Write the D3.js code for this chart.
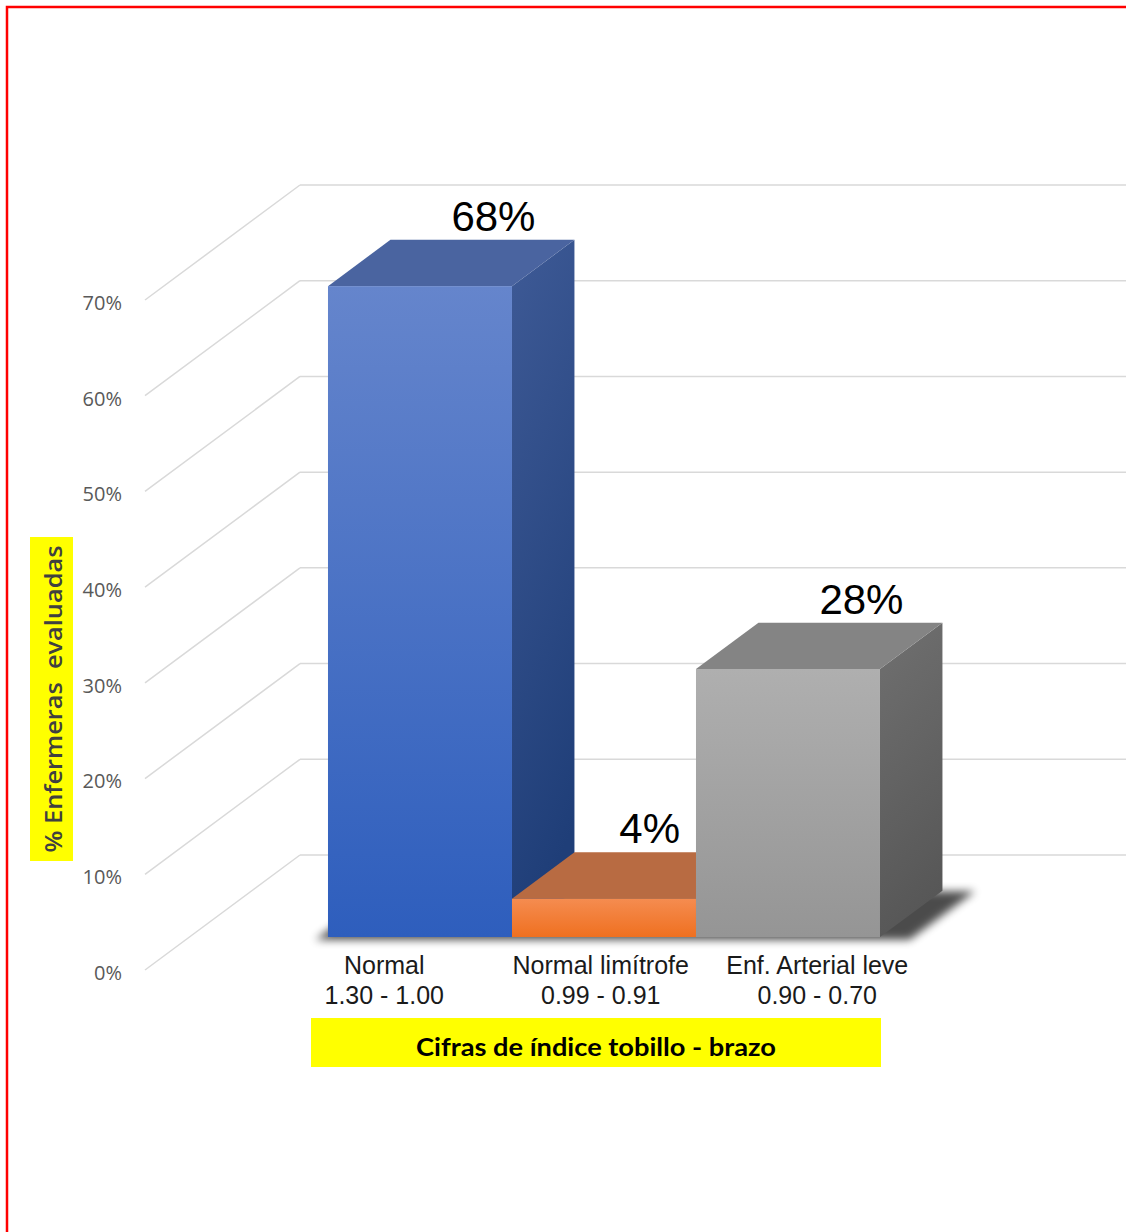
<!DOCTYPE html>
<html>
<head>
<meta charset="utf-8">
<script src="https://cdn.jsdelivr.net/npm/d3@7"></script>
<style>
  html, body { margin: 0; padding: 0; background: #fff; overflow: hidden; }
  svg { display: block; }
</style>
</head>
<body>
<script>
// Índice tobillo-brazo: distribución de enfermeras evaluadas
const categories = ["Normal", "Normal limítrofe", "Enf. Arterial leve"];
const ranges = ["1.30 - 1.00", "0.99 - 0.91", "0.90 - 0.70"];
const values = [0.68, 0.04, 0.28];
const valueLabels = ["68%", "4%", "28%"];
const yTicks = [0, 0.1, 0.2, 0.3, 0.4, 0.5, 0.6, 0.7];
const yTitle = "% Enfermeras  evaluadas";
const xTitle = "Cifras de índice tobillo - brazo";

// face colours per series: [front top, front bottom, top, side top, side bottom]
const palette = [
  ["#6585cc", "#2e5ebd", "#4a64a0", "#3e5a96", "#1f3e78"],
  ["#f58c50", "#ef7020", "#b86b42", "#a05a30", "#8a4a22"],
  ["#afafaf", "#959595", "#848484", "#707070", "#575757"]
];

const W = 1126, H = 1232;
const svg = d3.select("body").append("svg").attr("width", W).attr("height", H);
const defs = svg.append("defs");

// oblique projection: depth d in [0,1] shifts right and up
const DX = 155, DY = 115;
const wallLeft = 145;
const y = d3.scaleLinear().domain([0, 0.7]).range([970, 300]);
const x = d3.scaleBand().domain(categories).range([283.5, 835.5]).padding(0);
const xLab = d3.scaleBand().domain(categories).range([276, 925.5]).padding(0);
const d1 = 0.287, d2 = 0.69;
const P = (px, v, d) => [px + DX * d, y(v) - DY * d];

// side wall and back wall gridlines
const grid = svg.append("g");
yTicks.forEach(t => {
  const a = P(wallLeft, t, 0), b = P(wallLeft, t, 1);
  grid.append("line").attr("x1", a[0]).attr("y1", a[1]).attr("x2", b[0]).attr("y2", b[1])
    .attr("stroke", "#d9d9d9").attr("stroke-width", 1.5);
  grid.append("line").attr("x1", b[0]).attr("y1", b[1]).attr("x2", W + 10).attr("y2", b[1])
    .attr("stroke", "#d9d9d9").attr("stroke-width", 1.5);
});

// y tick labels
const yAxis = d3.axisLeft(y).tickValues(yTicks).tickFormat(d3.format(".0%")).tickSize(0).tickPadding(0);
const yg = svg.append("g").attr("transform", `translate(122,3)`).call(yAxis);
yg.select(".domain").remove();
yg.selectAll("text").attr("font-family", "'Open Sans', sans-serif").attr("font-size", 20)
  .attr("fill", "#595959");

// soft shadow under the row of bars
defs.append("filter").attr("id", "soft").attr("x", "-20%").attr("y", "-50%").attr("width", "140%").attr("height", "200%")
  .append("feGaussianBlur").attr("stdDeviation", 4);
const xl = x.range()[0] - 18, xr = x.range()[1] + 24;
const sh = [P(xl, 0, d1 + 0.01), P(xr, 0, d1 + 0.01), P(xr, 0, d2 + 0.03), P(xl, 0, d2 + 0.03)];
svg.append("polygon").attr("points", sh.map(p => p.join(",")).join(" "))
  .attr("fill", "#000").attr("opacity", 0.7).attr("filter", "url(#soft)")
  .attr("transform", "translate(4,4)");

// gradients
palette.forEach((c, i) => {
  const gf = defs.append("linearGradient").attr("id", "front" + i).attr("x1", 0).attr("y1", 0).attr("x2", 0).attr("y2", 1);
  gf.append("stop").attr("offset", 0).attr("stop-color", c[0]);
  gf.append("stop").attr("offset", 1).attr("stop-color", c[1]);
  const gs = defs.append("linearGradient").attr("id", "side" + i).attr("x1", 0).attr("y1", 0).attr("x2", 0.2).attr("y2", 1);
  gs.append("stop").attr("offset", 0).attr("stop-color", c[3]);
  gs.append("stop").attr("offset", 1).attr("stop-color", c[4]);
});

// bars, drawn left to right so later bars overlap earlier side faces
const poly = pts => pts.map(p => p.join(",")).join(" ");
const bars = svg.append("g");
categories.forEach((cat, i) => {
  const v = values[i];
  const x0 = x(cat), x1 = x0 + x.bandwidth();
  const g = bars.append("g");
  // side face
  g.append("polygon").attr("points", poly([P(x1, 0, d1), P(x1, 0, d2), P(x1, v, d2), P(x1, v, d1)]))
    .attr("fill", `url(#side${i})`);
  // top face
  g.append("polygon").attr("points", poly([P(x0, v, d1), P(x1, v, d1), P(x1, v, d2), P(x0, v, d2)]))
    .attr("fill", palette[i][2]);
  // front face
  const fl = P(x0, v, d1), br = P(x1, 0, d1);
  g.append("rect").attr("x", fl[0]).attr("y", fl[1]).attr("width", br[0] - fl[0]).attr("height", br[1] - fl[1])
    .attr("fill", `url(#front${i})`);
});

// value labels above each bar
const lab = svg.append("g").attr("font-family", "'Liberation Sans', Arial, sans-serif").attr("font-size", 42)
  .attr("fill", "#000").attr("text-anchor", "middle");
categories.forEach((cat, i) => {
  const v = values[i];
  const a = P(x(cat), v, d2), b = P(x(cat) + x.bandwidth(), v, d2);
  let cx = (a[0] + b[0]) / 2 + 11;
  const t = lab.append("text").attr("y", a[1] - 9).text(valueLabels[i]);
  const w = t.node().getComputedTextLength();
  if (i < categories.length - 1 && values[i + 1] > v) {
    const nextLeft = P(x(categories[i + 1]), 0, d1)[0];
    cx = Math.min(cx, nextLeft - 16 - w / 2);
  }
  t.attr("x", cx);
});

// category labels
const cl = svg.append("g").attr("font-family", "'Liberation Sans', Arial, sans-serif").attr("font-size", 25)
  .attr("fill", "#1a1a1a").attr("text-anchor", "middle");
categories.forEach((cat, i) => {
  const cx = xLab(cat) + xLab.bandwidth() / 2;
  cl.append("text").attr("x", cx).attr("y", 974).text(cat);
  cl.append("text").attr("x", cx).attr("y", 1004).text(ranges[i]);
});

// x axis title on yellow band
svg.append("rect").attr("x", 311).attr("y", 1018).attr("width", 570).attr("height", 49).attr("fill", "#ffff00");
svg.append("text").attr("x", 596).attr("y", 1056).attr("text-anchor", "middle")
  .attr("font-family", "Lato, 'Open Sans', sans-serif").attr("font-weight", "bold").attr("font-size", 25)
  .attr("textLength", 360).attr("lengthAdjust", "spacingAndGlyphs")
  .attr("fill", "#000").text(xTitle);

// y axis title on yellow band
svg.append("rect").attr("x", 30).attr("y", 537).attr("width", 43).attr("height", 324).attr("fill", "#ffff00");
svg.append("text").attr("transform", "translate(62,699) rotate(-90)").attr("text-anchor", "middle")
  .attr("font-family", "'Open Sans', sans-serif").attr("font-size", 23).attr("font-weight", 600)
  .attr("textLength", 307).attr("lengthAdjust", "spacingAndGlyphs")
  .attr("xml:space", "preserve").style("white-space", "pre")
  .attr("fill", "#404040").text(yTitle);

// red frame
svg.append("rect").attr("x", 7).attr("y", 7).attr("width", W + 20).attr("height", H + 20)
  .attr("fill", "none").attr("stroke", "#ff0000").attr("stroke-width", 2.5);
</script>
</body>
</html>
